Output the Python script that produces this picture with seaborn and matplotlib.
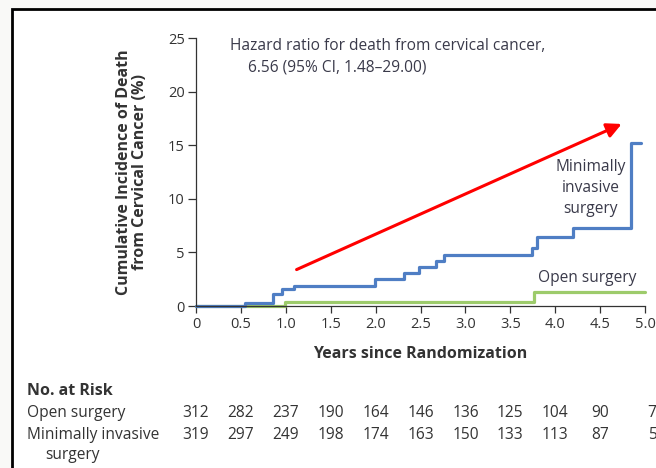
import numpy as np
import pandas as pd
import matplotlib.pyplot as plt
import matplotlib.patches as patches
import matplotlib.transforms as mtransforms
import seaborn as sns

# step curves
mis_years = [0, 0.55, 0.86, 0.955, 1.09, 1.99, 2.32, 2.48, 2.67, 2.76, 3.74, 3.80, 4.20, 4.84, 4.95]
mis_incidence = [0, 0.3, 1.1, 1.55, 1.9, 2.5, 3.05, 3.6, 4.2, 4.8, 5.45, 6.45, 7.3, 15.2, 15.2]
open_years = [0, 0.99, 3.76, 5.0]
open_incidence = [0, 0.35, 1.3, 1.3]

x_ticks = [0, 0.5, 1.0, 1.5, 2.0, 2.5, 3.0, 3.5, 4.0, 4.5, 5.0]
x_tick_labels = ["0", "0.5", "1.0", "1.5", "2.0", "2.5", "3.0", "3.5", "4.0", "4.5", "5.0"]
y_ticks = [0, 5, 10, 15, 20, 25]

risk_years = [0, 0.5, 1.0, 1.5, 2.0, 2.5, 3.0, 3.5, 4.0, 4.5]
risk_open = [312, 282, 237, 190, 164, 146, 136, 125, 104, 90]
risk_mis = [319, 297, 249, 198, 174, 163, 150, 133, 113, 87]
risk_open_last = "7"
risk_mis_last = "5"

sns.set_style("ticks")
plt.rcParams["font.family"] = ["Open Sans", "DejaVu Sans"]

txt = "#333333"
blue = "#4f7ec4"
green = "#9dcb6b"

df = pd.concat([
    pd.DataFrame({"years": open_years, "inc": open_incidence, "group": "Open surgery"}),
    pd.DataFrame({"years": mis_years, "inc": mis_incidence, "group": "Minimally invasive surgery"}),
])

fig = plt.figure(figsize=(6.56, 4.68), dpi=100, facecolor="#f9f9f7")
frame = patches.Rectangle((12 / 656, -0.02), 1.1, 1 - 9 / 468 + 0.02, transform=fig.transFigure,
                          facecolor="white", edgecolor="black", lw=2, zorder=-1)
fig.patches.append(frame)

ax = fig.add_axes([196 / 656, 1 - 306 / 468, 449 / 656, 267.7 / 468])
ax.set_facecolor("none")

sns.lineplot(data=df, x="years", y="inc", hue="group", hue_order=["Open surgery", "Minimally invasive surgery"],
             palette=[green, blue], estimator=None, sort=False, drawstyle="steps-post",
             lw=2.3, legend=False, ax=ax, clip_on=False)

ax.set_xlim(0, 5)
ax.set_ylim(0, 25)
ax.set_xticks(x_ticks, x_tick_labels)
ax.set_yticks(y_ticks)
ax.tick_params(axis="both", colors=txt, labelsize=10.5, length=5, width=0.9, pad=3)
ax.tick_params(axis="y", length=6, pad=2)
sns.despine(ax=ax)
for s in ["left", "bottom"]:
    ax.spines[s].set_color("#333333")
    ax.spines[s].set_linewidth(0.9)

ax.set_xlabel("Years since Randomization", fontsize=11.5, fontweight="bold", color=txt)
ax.xaxis.set_label_coords(0.5, -0.150)
ax.xaxis.label.set_va("top")
ax.set_ylabel("Cumulative Incidence of Death\nfrom Cervical Cancer (%)", fontsize=11.5,
              fontweight="bold", color=txt, linespacing=1.0)
ax.yaxis.set_label_coords(-0.108, 0.5)

ann = "#3a3a4a"
ax.text(0.38, 24.3, "Hazard ratio for death from cervical cancer,", fontsize=11.2, color=ann, va="center")
ax.text(0.58, 22.3, "6.56 (95% CI, 1.48\u201329.00)", fontsize=11.2, color=ann, va="center")
ax.text(4.39, 11.0, "Minimally\ninvasive\nsurgery", fontsize=11.2, color=ann, ha="center", va="center",
        linespacing=1.4)
ax.text(4.36, 2.6, "Open surgery", fontsize=11.2, color=ann, ha="center", va="center")

ax.annotate("", xy=(4.74, 17.0), xytext=(1.12, 3.4),
            arrowprops=dict(arrowstyle="-|>", color="red", lw=2.2, mutation_scale=22, shrinkA=0, shrinkB=0),
            annotation_clip=False)

# number at risk table
tr = mtransforms.blended_transform_factory(ax.transData, fig.transFigure)
fig.text(27 / 656, 1 - 391 / 468, "No. at Risk", fontsize=11.5, fontweight="bold", color=txt, va="center")
fig.text(27 / 656, 1 - 413 / 468, "Open surgery", fontsize=11.2, color=txt, va="center")
fig.text(27 / 656, 1 - 435 / 468, "Minimally invasive", fontsize=11.2, color=txt, va="center")
fig.text(45 / 656, 1 - 455 / 468, "surgery", fontsize=11.2, color=txt, va="center")
for xv, o, m in zip(risk_years, risk_open, risk_mis):
    ax.text(xv, 1 - 413 / 468, str(o), transform=tr, fontsize=11.2, color=txt, ha="center", va="center", clip_on=False)
    ax.text(xv, 1 - 435 / 468, str(m), transform=tr, fontsize=11.2, color=txt, ha="center", va="center", clip_on=False)
ax.text(5.03, 1 - 413 / 468, risk_open_last, transform=tr, fontsize=11.2, color=txt, ha="left", va="center", clip_on=False)
ax.text(5.03, 1 - 435 / 468, risk_mis_last, transform=tr, fontsize=11.2, color=txt, ha="left", va="center", clip_on=False)

fig.savefig("out.png", dpi=100, facecolor=fig.get_facecolor())
